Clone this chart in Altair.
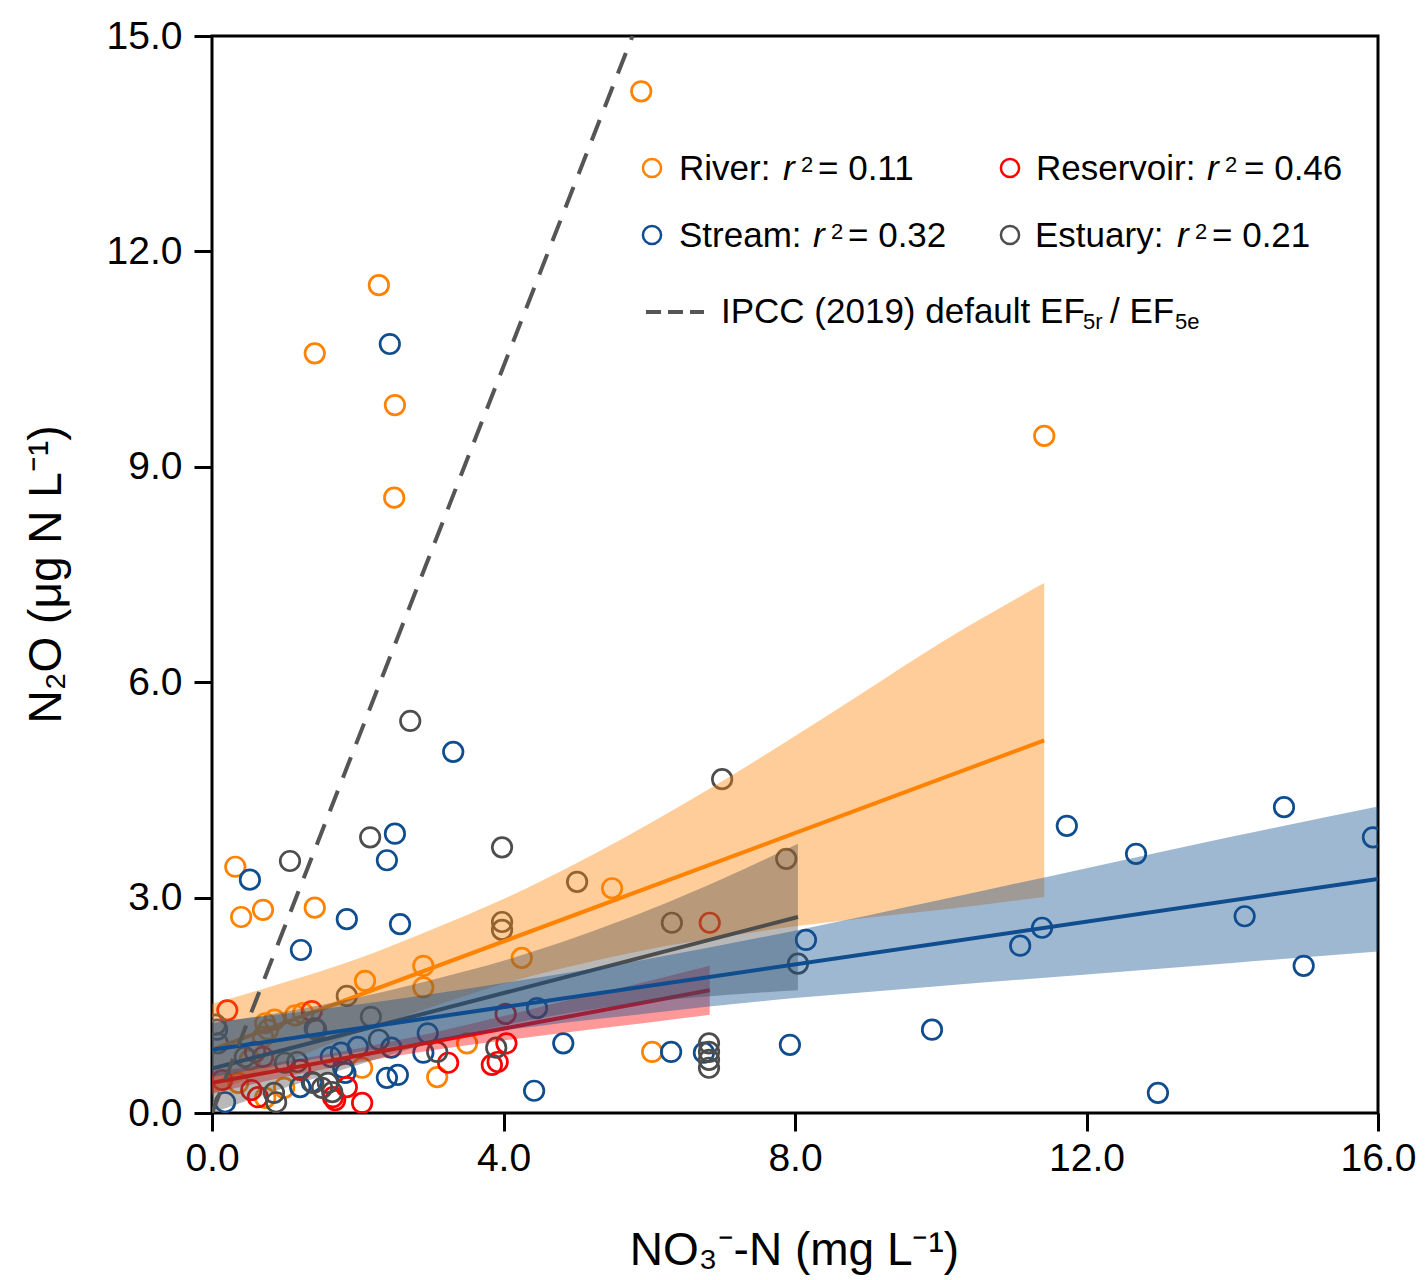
import altair as alt
import pandas as pd

FONT = "Liberation Sans"

# ---------------- observations (NO3-N mg/L , N2O ug N/L) ----------------
river_x = [5.89, 2.29, 1.41, 2.51, 2.50, 11.42, 0.32, 0.40, 0.70, 1.41, 5.49, 2.90, 2.90, 2.10, 4.25,
           3.50, 3.09, 6.04, 0.73, 0.77, 0.86, 0.70, 1.14, 1.25, 2.06, 0.36, 0.99, 0.73, 0.52]
river_y = [14.23, 11.53, 10.58, 9.86, 8.57, 9.43, 3.43, 2.73, 2.83, 2.86, 3.13, 2.05, 1.75, 1.84, 2.16,
           0.97, 0.50, 0.85, 1.25, 1.16, 1.30, 1.06, 1.36, 1.39, 0.63, 0.42, 0.35, 0.21, 0.74]

stream_x = [2.44, 3.31, 0.52, 2.51, 2.40, 2.58, 1.85, 1.22, 11.73, 14.71, 15.93, 12.68, 14.17, 11.39,
            11.09, 14.98, 8.15, 9.88, 12.98, 7.93, 6.30, 6.75, 4.82, 4.42, 4.46, 2.96, 2.55, 2.40,
            2.46, 2.90, 2.00, 1.63, 1.77, 1.83, 1.80, 1.37, 1.21, 0.18, 0.07, 1.41]
stream_y = [10.71, 5.03, 3.25, 3.89, 3.52, 2.63, 2.70, 2.27, 4.00, 4.26, 3.84, 3.61, 2.74, 2.58,
            2.33, 2.05, 2.41, 1.16, 0.28, 0.95, 0.85, 0.84, 0.97, 0.31, 1.46, 1.11, 0.53, 0.49,
            0.91, 0.84, 0.92, 0.78, 0.84, 0.56, 0.63, 0.43, 0.36, 0.15, 1.16, 1.18]

reservoir_x = [6.83, 0.21, 1.37, 4.03, 4.04, 3.84, 3.92, 3.24, 2.06, 1.69, 1.85, 1.66, 0.54, 0.59,
               0.70, 0.14, 0.63, 1.21]
reservoir_y = [2.65, 1.43, 1.42, 1.38, 0.97, 0.67, 0.71, 0.70, 0.14, 0.18, 0.36, 0.22, 0.32, 0.85,
               0.78, 0.46, 0.22, 0.60]

estuary_x = [2.72, 7.00, 2.17, 3.98, 1.07, 7.88, 5.01, 6.31, 3.98, 3.98, 8.04, 1.85, 2.18, 6.82,
             6.82, 6.82, 6.82, 3.90, 2.29, 1.43, 0.05, 0.08, 0.45, 1.00, 1.17, 1.39, 1.51, 1.59,
             1.65, 0.85, 0.88, 3.09]
estuary_y = [5.46, 4.65, 3.84, 3.70, 3.51, 3.54, 3.22, 2.65, 2.66, 2.55, 2.08, 1.63, 1.34, 0.97,
             0.85, 0.74, 0.63, 0.91, 1.02, 1.16, 1.23, 0.97, 0.78, 0.70, 0.71, 0.42, 0.35, 0.42,
             0.29, 0.28, 0.15, 0.85]

# ---------------- fitted lines (end points) ----------------
river_line_x, river_line_y = [0.0, 11.42], [0.88, 5.19]
reservoir_line_x, reservoir_line_y = [0.0, 6.83], [0.42, 1.71]
estuary_line_x, estuary_line_y = [0.0, 8.04], [0.62, 2.73]
stream_line_x, stream_line_y = [0.0, 16.0], [0.88, 3.26]
ipcc_x, ipcc_y = [0.0, 5.77], [0.0, 15.0]

# ---------------- confidence bands ----------------
river_band_x = [0, 1, 2, 3, 4, 5, 6, 7, 8, 9, 10, 11.42]
river_band_lo = [0.26, 0.70, 1.12, 1.47, 1.80, 2.06, 2.28, 2.45, 2.60, 2.72, 2.83, 3.01]
river_band_hi = [1.52, 1.82, 2.15, 2.55, 2.98, 3.48, 4.03, 4.62, 5.25, 5.90, 6.55, 7.38]

reservoir_band_x = [0, 1, 2, 3, 4, 5, 6, 6.83]
reservoir_band_lo = [0.27, 0.50, 0.70, 0.87, 1.01, 1.14, 1.26, 1.37]
reservoir_band_hi = [0.57, 0.72, 0.90, 1.11, 1.35, 1.60, 1.84, 2.05]

estuary_band_x = [0, 1, 2, 3, 4, 5, 6, 7, 8.04]
estuary_band_lo = [0.00, 0.35, 0.67, 0.97, 1.22, 1.41, 1.55, 1.64, 1.71]
estuary_band_hi = [1.25, 1.41, 1.61, 1.85, 2.12, 2.45, 2.83, 3.26, 3.75]

stream_band_x = [0, 2, 4, 6, 8, 10, 12, 14, 16]
stream_band_lo = [0.50, 0.85, 1.15, 1.39, 1.60, 1.77, 1.93, 2.09, 2.25]
stream_band_hi = [1.26, 1.51, 1.81, 2.15, 2.54, 2.97, 3.41, 3.85, 4.27]

groups = ["River", "Stream", "Reservoir", "Estuary"]
colors = ["#FF8200", "#0F4D8F", "#FF0000", "#4D4D4D"]
cmap = dict(zip(groups, colors))

x_ticks = [0, 4, 8, 12, 16]
y_ticks = [0, 3, 6, 9, 12, 15]

# ---------------- scales & axes ----------------
xscale = alt.Scale(domain=[0, 16], nice=False, zero=False)
yscale = alt.Scale(domain=[0, 15], nice=False, zero=False)

common_axis = dict(grid=False, domain=False, ticks=True, tickSize=18, tickWidth=3, tickColor="black",
                   labelFont=FONT, labelFontSize=39, labelColor="black", labelFlush=False,
                   labelOverlap=False, titleFont=FONT, titleFontSize=46, titleFontWeight="normal",
                   titleColor="black", format=".1f")
xaxis = alt.Axis(values=x_ticks, title="NO₃⁻-N (mg L⁻¹)", labelPadding=8,
                 titleX=582, titleY=137, titleBaseline="middle", titleAlign="center", **common_axis)
yaxis = alt.Axis(values=y_ticks, title="N₂O (μg N L⁻¹)", labelPadding=12,
                 titleX=-166, titleY=538, titleAngle=270, titleBaseline="middle",
                 titleAlign="center", **common_axis)


def X(field="x"):
    return alt.X(f"{field}:Q", scale=xscale, axis=xaxis)


def Y(field="y"):
    return alt.Y(f"{field}:Q", scale=yscale, axis=yaxis)


# ---------------- data frames ----------------
pts = pd.concat([
    pd.DataFrame({"x": river_x, "y": river_y, "group": "River"}),
    pd.DataFrame({"x": stream_x, "y": stream_y, "group": "Stream"}),
    pd.DataFrame({"x": reservoir_x, "y": reservoir_y, "group": "Reservoir"}),
    pd.DataFrame({"x": estuary_x, "y": estuary_y, "group": "Estuary"}),
], ignore_index=True)

points = alt.Chart(pts).mark_point(shape="circle", filled=False, size=380, strokeWidth=2.7,
                                   opacity=1, clip=True).encode(
    x=X(), y=Y(),
    color=alt.Color("group:N", scale=alt.Scale(domain=groups, range=colors), legend=None))


def band(bx, lo, hi, color):
    df = pd.DataFrame({"x": bx, "lo": lo, "hi": hi})
    return alt.Chart(df).mark_area(color=color, opacity=0.4, interpolate="monotone").encode(
        x=X(), y=Y("lo"), y2="hi:Q")


def line(lx, ly, color, dash=None):
    df = pd.DataFrame({"x": lx, "y": ly})
    kw = dict(color=color, strokeWidth=4, clip=True)
    if dash:
        kw["strokeDash"] = dash
    return alt.Chart(df).mark_line(**kw).encode(x=X(), y=Y())


layers = [points,
          band(river_band_x, river_band_lo, river_band_hi, cmap["River"]),
          line(river_line_x, river_line_y, cmap["River"]),
          band(reservoir_band_x, reservoir_band_lo, reservoir_band_hi, cmap["Reservoir"]),
          line(reservoir_line_x, reservoir_line_y, cmap["Reservoir"]),
          band(estuary_band_x, estuary_band_lo, estuary_band_hi, cmap["Estuary"]),
          line(estuary_line_x, estuary_line_y, cmap["Estuary"]),
          band(stream_band_x, stream_band_lo, stream_band_hi, cmap["Stream"]),
          line(stream_line_x, stream_line_y, cmap["Stream"]),
          line(ipcc_x, ipcc_y, "#555555", dash=[22, 14])]

# ---------------- in-plot legend ----------------
one = pd.DataFrame({"a": [0]})
LEG = 35
SUP = 22


def txt(s, px, py, size=LEG, style="normal"):
    return alt.Chart(one).mark_text(text=s, align="left", baseline="alphabetic", font=FONT,
                                    fontSize=size, fontStyle=style, color="black").encode(
        x=alt.value(px), y=alt.value(py))


def sym(px, py, color):
    return alt.Chart(one).mark_point(shape="circle", filled=False, size=330, strokeWidth=2.5,
                                     color=color, opacity=1).encode(x=alt.value(px), y=alt.value(py))


legend_rows = [
    ("River", "River: ", "= 0.11", 440, 467, 571, 589, 606, 132, 144, 136),
    ("Reservoir", "Reservoir: ", "= 0.46", 798, 824, 995, 1013, 1032, 132, 144, 136),
    ("Stream", "Stream: ", "= 0.32", 440, 467, 601, 619, 636, 199, 211, 203),
    ("Estuary", "Estuary: ", "= 0.21", 798, 823, 965, 983, 1000, 199, 211, 203),
]
for g, lab, val, sx, tx, rx, s2x, ex, sy, by, supy in legend_rows:
    layers.append(sym(sx, sy, cmap[g]))
    layers.append(txt(lab, tx, by))
    layers.append(txt("r", rx, by, style="italic"))
    layers.append(txt("2", s2x, supy, size=SUP))
    layers.append(txt(val, ex, by))

layers.append(alt.Chart(one).mark_rule(color="#555555", strokeWidth=4, strokeDash=[15, 7]).encode(
    x=alt.value(434), x2=alt.value(492), y=alt.value(276)))
layers.append(txt("IPCC (2019) default EF", 509, 287))
layers.append(txt("5r", 871, 293, size=SUP))
layers.append(txt("/ EF", 898, 287))
layers.append(txt("5e", 963, 293, size=SUP))

chart = alt.layer(*layers).properties(
    width=1166, height=1077,
    autosize=alt.AutoSizeParams(type="none"),
    padding={"left": 212, "top": 36, "right": 49, "bottom": 167},
    background="white",
).configure_view(stroke="black", strokeWidth=3)

chart.save("out.html", embed_options={"renderer": "svg", "actions": False})
